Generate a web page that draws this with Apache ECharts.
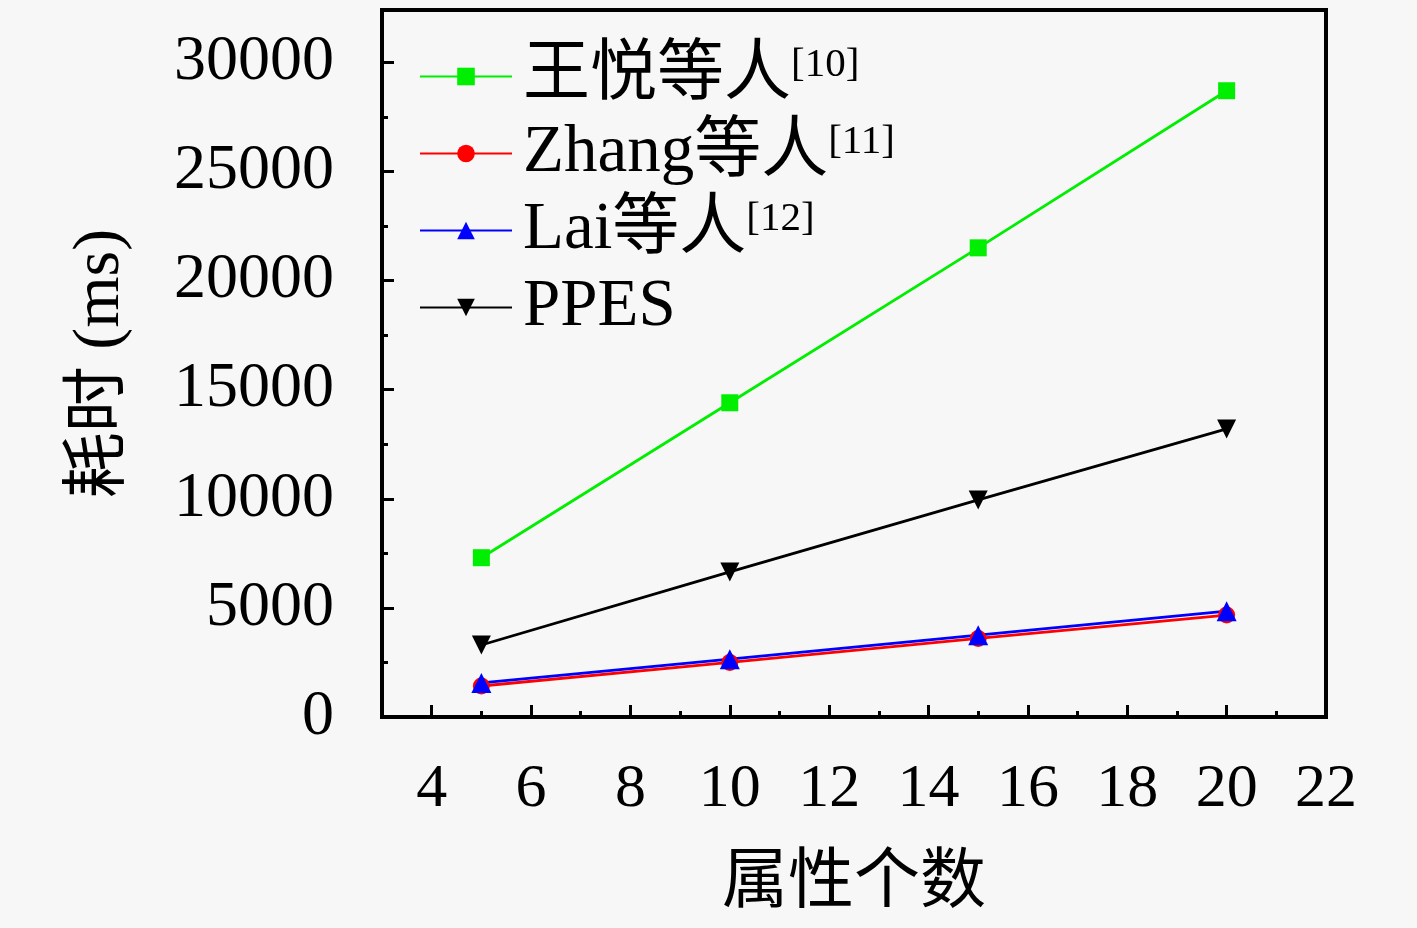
<!DOCTYPE html>
<html>
<head>
<meta charset="utf-8">
<script src="https://cdn.jsdelivr.net/npm/echarts@6/dist/echarts.min.js"></script>
<style>
  html, body { margin: 0; padding: 0; background: #f7f7f7; }
  #chart { width: 1417px; height: 928px; }
</style>
</head>
<body>
<div id="chart"></div>
<script>
const attrCounts = [5, 10, 15, 20];
const wangYue = [7300, 14400, 21500, 28700];
const zhang = [1420, 2500, 3600, 4670];
const lai = [1560, 2650, 3750, 4850];
const ppes = [3300, 6650, 9950, 13200];
const xMajorTicks = [4, 6, 8, 10, 12, 14, 16, 18, 20, 22];
const xMinorTicks = [3, 5, 7, 9, 11, 13, 15, 17, 19, 21];

const serif = "'Liberation Serif', 'DejaVu Serif', 'Noto Sans CJK SC', serif";
const chart = echarts.init(document.getElementById('chart'));

function pairs(vals) {
    return attrCounts.map((x, i) => [x, vals[i]]);
}

function makeSeries(name, vals, color, symbol, size) {
    return {
        name: name,
        type: 'line',
        data: pairs(vals),
        symbol: symbol,
        symbolSize: size,
        itemStyle: { color: color },
        lineStyle: { color: color, width: 2.8 },
        animation: false
    };
}

const names = { wang: '王悦等人{sup|[10]}', zhang: 'Zhang等人{sup|[11]}', lai: 'Lai等人{sup|[12]}', ppes: 'PPES' };

const option = {
    backgroundColor: '#f7f7f7',
    grid: {
        left: 382, right: 91, top: 10, bottom: 211,
        show: true, borderColor: '#000', borderWidth: 4,
        containLabel: false
    },
    legend: {
        orient: 'vertical',
        left: 414, top: 38,
        itemWidth: 92, itemHeight: 22,
        itemGap: 10,
        data: ['wang', 'zhang', 'lai', 'ppes'],
        formatter: n => names[n],
        textStyle: {
            fontFamily: serif, fontSize: 67, color: '#000', lineHeight: 64,
            padding: [0, 0, 0, 6],
            rich: {
                sup: { fontFamily: serif, fontSize: 41, color: '#000', lineHeight: 64, verticalAlign: 'top', padding: [0, 0, 24, 0] }
            }
        }
    },
    xAxis: [
        {
            type: 'value', min: 3, max: 22,
            name: '属性个数', nameLocation: 'middle', nameGap: 135,
            nameTextStyle: { fontFamily: serif, fontSize: 66, color: '#000' },
            axisLine: { show: true, onZero: false, lineStyle: { color: '#000', width: 4 } },
            axisTick: { show: true, inside: true, length: 12, lineStyle: { color: '#000', width: 3 }, customValues: xMajorTicks },
            axisLabel: { fontFamily: serif, fontSize: 62, color: '#000', margin: 42, customValues: xMajorTicks },
            splitLine: { show: false }
        },
        {
            type: 'value', min: 3, max: 22, position: 'bottom',
            axisLine: { show: false },
            axisTick: { show: true, inside: true, length: 6, lineStyle: { color: '#000', width: 3 }, customValues: xMinorTicks },
            axisLabel: { show: false },
            splitLine: { show: false }
        }
    ],
    yAxis: {
        type: 'value', min: 0, max: 32400, interval: 5000,
        name: '耗时 (ms)', nameLocation: 'middle', nameGap: 248,
        nameTextStyle: { fontFamily: serif, fontSize: 66, color: '#000' },
        axisLine: { show: true, lineStyle: { color: '#000', width: 4 } },
        axisTick: { show: true, inside: true, length: 12, lineStyle: { color: '#000', width: 3 } },
        minorTick: { show: true, splitNumber: 2, length: 6, lineStyle: { color: '#000', width: 3 } },
        axisLabel: { fontFamily: serif, fontSize: 64, color: '#000', margin: 48, showMaxLabel: false,
            formatter: v => (v % 5000 === 0 ? String(v) : '') },
        splitLine: { show: false }
    },
    series: [
        makeSeries('wang', wangYue, '#00ee00', 'rect', 17),
        makeSeries('zhang', zhang, '#ff0000', 'circle', 17),
        makeSeries('lai', lai, '#0000ff', 'triangle', 20),
        makeSeries('ppes', ppes, '#000000', 'path://M0,0 L10,0 L5,10 Z', 19)
    ]
};

chart.setOption(option);
</script>
</body>
</html>
